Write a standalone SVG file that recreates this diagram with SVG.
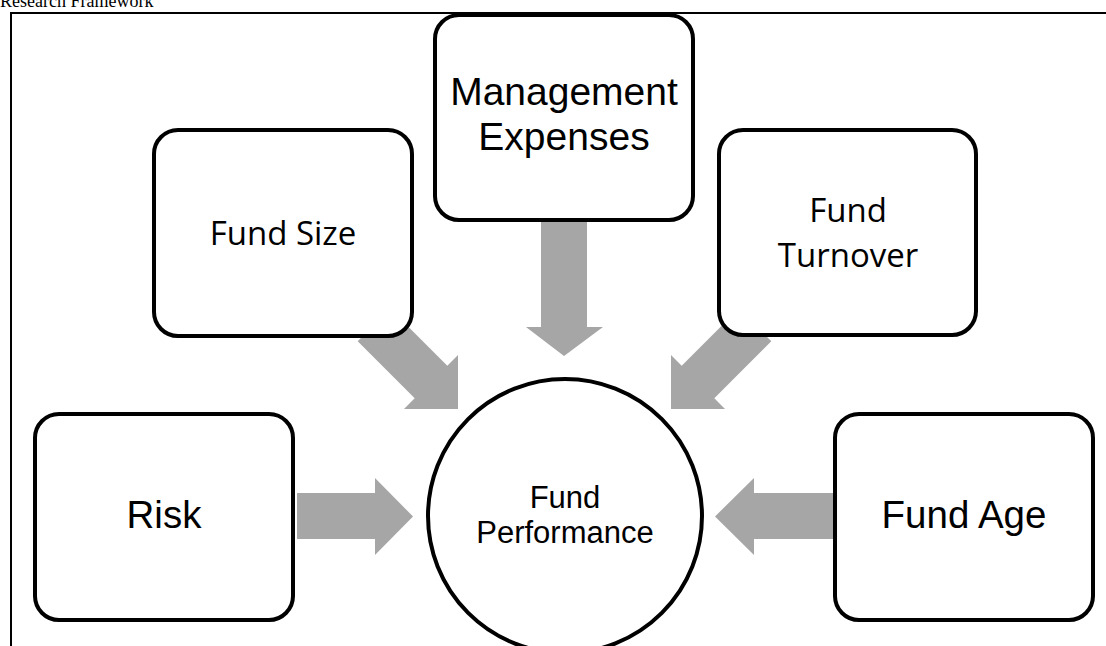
<svg xmlns="http://www.w3.org/2000/svg" width="1106" height="646" viewBox="0 0 1106 646">
  <style>
    .box { fill: #ffffff; stroke: #000000; stroke-width: 4; }
    .flow { fill: #a6a6a6; stroke: none; }
    .arial { font-family: "Liberation Sans", Arial, sans-serif; fill: #000000; text-anchor: middle; }
    .body { font-family: "Open Sans", "Noto Sans", sans-serif; fill: #000000; text-anchor: middle; }
    .title { font-family: "Liberation Serif", "Times New Roman", serif; font-size: 18px; fill: #000000; }
  </style>
  <rect width="1106" height="646" fill="#ffffff"/>

  <!-- caption and frame -->
  <text class="title" x="0" y="7">Research Framework</text>
  <path d="M11,646 V13 H1106" fill="none" stroke="#000000" stroke-width="2"/>

  <!-- block arrows pointing into the centre -->
  <g id="connectors">
    <!-- Risk -> Fund Performance -->
    <polygon class="flow" points="297,493 375,493 375,478 413,516.5 375,555 375,539 297,539"/>
    <!-- Fund Age -> Fund Performance -->
    <polygon class="flow" points="835,493 754,493 754,478 715,516.5 754,555 754,539 835,539"/>
    <!-- Management Expenses -> Fund Performance -->
    <polygon class="flow" points="541,218 587,218 587,327 603,327 564,356 526,327 541,327"/>
    <!-- Fund Size -> Fund Performance -->
    <polygon class="flow" points="390.3,308.7 447.3,365.7 458,355 458,409 404,409 414.7,398.3 357.7,341.3"/>
    <!-- Fund Turnover -> Fund Performance -->
    <polygon class="flow" points="738.7,308.7 681.7,365.7 671,355 671,409 725,409 714.3,398.3 771.3,341.3"/>
  </g>

  <g id="fund-size">
    <rect class="box" x="154" y="130" width="258" height="206" rx="24"/>
    <text class="body" x="283" y="245" font-size="33">Fund Size</text>
  </g>

  <g id="management-expenses">
    <rect class="box" x="435" y="15" width="258" height="205" rx="24"/>
    <text class="arial" x="564" y="105" font-size="39">Management</text>
    <text class="arial" x="564" y="150" font-size="39">Expenses</text>
  </g>

  <g id="fund-turnover">
    <rect class="box" x="719" y="130" width="257" height="205" rx="24"/>
    <text class="body" x="848" y="222" font-size="33">Fund</text>
    <text class="body" x="848" y="267" font-size="33">Turnover</text>
  </g>

  <g id="risk">
    <rect class="box" x="35" y="414" width="258" height="206" rx="24"/>
    <text class="arial" x="164" y="528" font-size="38.5">Risk</text>
  </g>

  <g id="fund-age">
    <rect class="box" x="835" y="414" width="258" height="206" rx="24"/>
    <text class="arial" x="964" y="528" font-size="38.5">Fund Age</text>
  </g>

  <g id="fund-performance">
    <circle class="box" cx="565" cy="516" r="137"/>
    <text class="arial" x="565" y="508" font-size="31">Fund</text>
    <text class="arial" x="565" y="543" font-size="31">Performance</text>
  </g>
</svg>
